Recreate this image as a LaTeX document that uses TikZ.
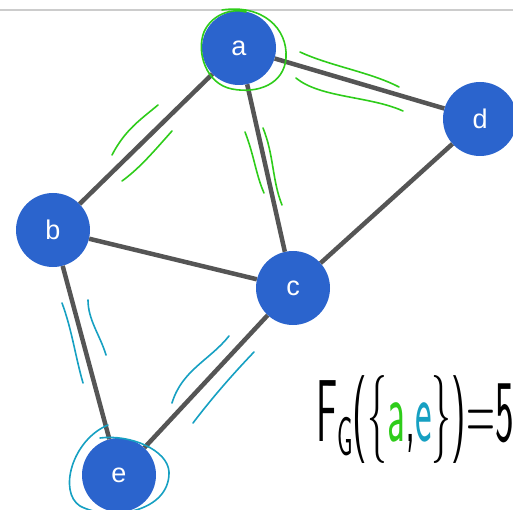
\documentclass[tikz,border=0pt]{standalone}
\usepackage{fontspec}
\newfontfamily\labelfont{Liberation Sans}
\definecolor{nodeblue}{HTML}{2B64CD}
\definecolor{edgegray}{HTML}{555555}
\definecolor{greenhand}{HTML}{2ECC1A}
\definecolor{cyanhand}{HTML}{16A0C2}
\begin{document}
\begin{tikzpicture}[x=1pt,y=-1pt,
  vertex/.style={circle,fill=nodeblue,minimum size=74pt,inner sep=0pt,text=white,
    font=\labelfont\fontsize{27}{27}\selectfont},
  edge/.style={draw=edgegray,line width=4.5pt},
  hand/.style={line width=1.6pt,line cap=round,line join=round},
  topline/.style={draw=black!20,line width=1.2pt}]
\useasboundingbox (0,0) rectangle (513,510);
\clip (0,0) rectangle (513,510);
\draw[topline] (0,10) -- (513,10);
\node[vertex] (a) at (239,48) {a};
\node[vertex] (d) at (480,119) {d};
\node[vertex] (b) at (53,230) {b};
\node[vertex] (c) at (293,288) {c};
\node[vertex] (e) at (119,475) {e};
\draw[edge] (a) -- (b);
\draw[edge] (a) -- (c);
\draw[edge] (a) -- (d);
\draw[edge] (b) -- (c);
\draw[edge] (c) -- (d);
\draw[edge] (b) -- (e);
\draw[edge] (c) -- (e);
% green marks
\draw[hand,greenhand] (222,10) .. controls (262,4) and (288,28) .. (286,58)
  .. controls (284,84) and (258,94) .. (232,89)
  .. controls (206,84) and (196,52) .. (204,32)
  .. controls (212,14) and (232,8) .. (246,12);
\draw[hand,greenhand] (300,52) .. controls (330,66) and (370,72) .. (399,87);
\draw[hand,greenhand] (296,78) .. controls (320,98) and (370,96) .. (403,111);
\draw[hand,greenhand] (158,105) .. controls (140,120) and (125,130) .. (112,155);
\draw[hand,greenhand] (172,131) .. controls (155,150) and (140,168) .. (122,181);
\draw[hand,greenhand] (245,132) .. controls (254,155) and (256,175) .. (264,193);
\draw[hand,greenhand] (263,128) .. controls (274,155) and (272,180) .. (282,205);
% cyan marks
\draw[hand,cyanhand] (62,303) .. controls (72,330) and (75,355) .. (83,383);
\draw[hand,cyanhand] (88,300) .. controls (88,320) and (100,335) .. (106,355);
\draw[hand,cyanhand] (229,336) .. controls (210,360) and (182,370) .. (172,403);
\draw[hand,cyanhand] (254,352) .. controls (232,375) and (212,398) .. (193,423);
\draw[hand,cyanhand] (108,425) .. controls (72,440) and (58,492) .. (80,506)
  .. controls (110,522) and (170,512) .. (169,472)
  .. controls (168,450) and (130,434) .. (100,438);
% formula
\node[anchor=base west,inner sep=0pt] (f) at (316,441)
  {\scalebox{0.45}[1]{\sffamily\fontsize{88}{88}\selectfont F\raisebox{-14pt}{\fontsize{55}{55}\selectfont G}(\{\textcolor{greenhand}{a},\textcolor{cyanhand}{e}\})=5}};
\end{tikzpicture}
\end{document}
